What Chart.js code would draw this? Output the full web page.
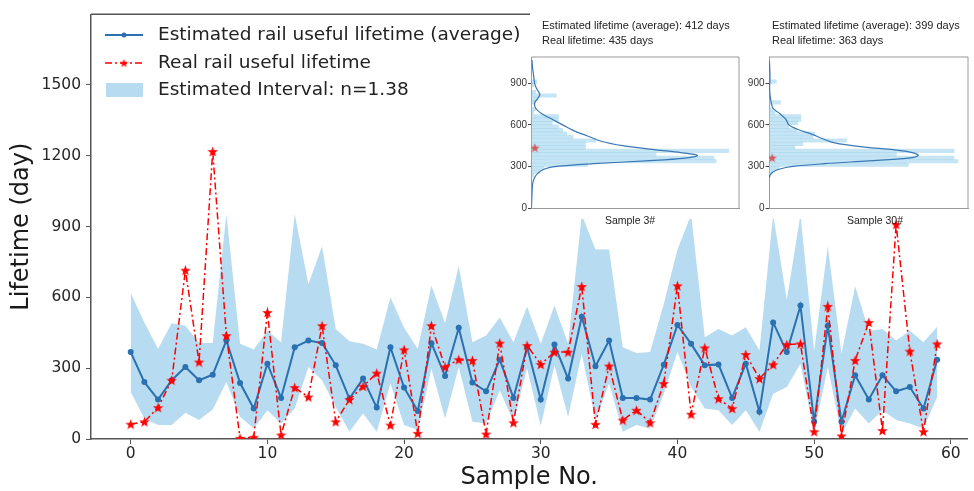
<!DOCTYPE html>
<html>
<head>
<meta charset="utf-8">
<script src="https://cdn.jsdelivr.net/npm/chart.js@4.4.0/dist/chart.umd.min.js"></script>
<style>
  html, body { margin: 0; padding: 0; background: #fff; overflow: hidden; }
  #wrap { position: relative; width: 974px; height: 491px; }
  #wrap canvas { position: absolute; }
  .inset-bg { position: absolute; background: #fff; }
  .note { position: absolute; font-family: 'Liberation Sans', Arial, sans-serif; font-size: 11px; color: #222; white-space: nowrap; line-height: 1; }
  .cap { position: absolute; font-family: 'Liberation Sans', Arial, sans-serif; font-size: 10.5px; color: #222; white-space: nowrap; line-height: 1; transform: translateX(-50%); }
  .leg { position: absolute; left: 158px; font-family: 'DejaVu Sans', sans-serif; font-size: 18.5px; color: #222; white-space: nowrap; line-height: 1; }
</style>
</head>
<body>
<div id="wrap">
  <canvas id="main" width="974" height="491" style="left:0;top:0"></canvas>
  <div class="inset-bg" style="left:530px;top:11px;width:213px;height:208px"></div>
  <div class="inset-bg" style="left:743px;top:11px;width:231px;height:208px"></div>
  <canvas id="legendIcons" width="50" height="90" style="left:100px;top:20px"></canvas>
  <div class="leg" style="top:25px">Estimated rail useful lifetime (average)</div>
  <div class="leg" style="top:53px">Real rail useful lifetime</div>
  <div class="leg" style="top:80px">Estimated Interval: n=1.38</div>

  <canvas id="inset3" width="240" height="165" style="left:505px;top:50px"></canvas>
  <canvas id="inset30" width="231" height="165" style="left:743px;top:50px"></canvas>
  <div class="note" id="n3a" style="left:542px;top:20px"></div>
  <div class="note" id="n3b" style="left:542px;top:35px"></div>
  <div class="cap" style="left:630px;top:215px">Sample 3#</div>
  <div class="note" id="n30a" style="left:772px;top:20px"></div>
  <div class="note" id="n30b" style="left:772px;top:35px"></div>
  <div class="cap" style="left:875px;top:215px">Sample 30#</div>
</div>
<script>
// main chart data
const samples = [0, 1, 2, 3, 4, 5, 6, 7, 8, 9, 10, 11, 12, 13, 14, 15, 16, 17, 18, 19,
  20, 21, 22, 23, 24, 25, 26, 27, 28, 29, 30, 31, 32, 33, 34, 35, 36, 37, 38, 39,
  40, 41, 42, 43, 44, 45, 46, 47, 48, 49, 50, 51, 52, 53, 54, 55, 56, 57, 58, 59];
const estimated = [368, 241, 167, 249, 305, 249, 272, 417, 237, 129, 319, 174, 389, 417, 407, 312, 171, 256, 133, 389,
  218, 119, 406, 267, 471, 239, 202, 336, 174, 389, 167, 400, 256, 518, 308, 417, 174, 174, 167, 315,
  483, 403, 312, 316, 174, 319, 115, 494, 368, 565, 73, 480, 73, 270, 167, 270, 202, 220, 129, 336];
const realLife = [63, 73, 133, 249, 715, 326, 1218, 438, 3, 7, 536, 17, 218, 178, 480, 73, 167, 223, 279, 59,
  378, 24, 480, 305, 336, 333, 21, 406, 69, 396, 316, 368, 368, 646, 62, 309, 80, 122, 69, 235,
  649, 105, 386, 171, 129, 358, 256, 315, 400, 403, 31, 562, 13, 333, 494, 36, 909, 372, 31, 403];
const intervalHigh = [618, 494, 382, 490, 480, 407, 407, 953, 403, 379, 459, 410, 953, 656, 817, 466, 414, 403, 379, 600,
  471, 382, 649, 490, 733, 410, 438, 515, 410, 560, 403, 565, 403, 950, 803, 803, 389, 364, 368, 572,
  803, 950, 431, 466, 438, 473, 375, 950, 590, 950, 374, 817, 361, 647, 458, 466, 417, 459, 410, 476];
const intervalLow = [199, 87, 59, 59, 111, 80, 125, 241, 94, 45, 122, 66, 129, 305, 249, 136, 31, 108, 31, 235,
  59, 38, 298, 87, 305, 73, 66, 206, 73, 300, 55, 312, 94, 361, 80, 235, 31, 59, 45, 192,
  368, 220, 129, 122, 59, 122, 31, 192, 220, 319, 25, 305, 20, 129, 66, 122, 80, 66, 45, 178];
const xTicks = [0, 10, 20, 30, 40, 50, 60];
const yTicks = [0, 300, 600, 900, 1200, 1500];

// inset data (histogram lengths as fraction of inset width)
const histBins = [237.5, 262.5, 287.5, 312.5, 337.5, 362.5, 387.5, 412.5, 437.5, 462.5, 487.5, 512.5, 537.5, 562.5, 587.5,
  612.5, 637.5, 662.5, 687.5, 712.5, 737.5, 762.5, 787.5, 812.5, 837.5, 862.5, 887.5, 912.5, 937.5];
const hist3 = [0.01, 0.04, 0.06, 0.27, 0.89, 0.88, 0.60, 0.95, 0.26, 0.26, 0.31, 0.20, 0.17, 0.15, 0.13,
  0.10, 0.13, 0.13, 0.01, 0.02, 0, 0.02, 0.03, 0.12, 0.02, 0, 0.01, 0.025, 0];
const hist30 = [0.005, 0.02, 0.05, 0.70, 0.95, 0.93, 0.64, 0.93, 0.13, 0.17, 0.39, 0.22, 0.23, 0.14, 0.10,
  0.145, 0.16, 0.16, 0.03, 0.02, 0, 0.058, 0, 0, 0, 0, 0, 0.037, 0];
const kde3Days = [1070, 1000, 960, 900, 860, 820, 790, 760, 720, 680, 640, 600, 560, 520, 480, 450, 420, 400, 380, 360, 340, 320, 300, 280, 250, 220, 180, 120, 50, 0];
const kde3Dens = [0.002, 0.006, 0.01, 0.015, 0.025, 0.04, 0.03, 0.015, 0.02, 0.05, 0.10, 0.15, 0.20, 0.27, 0.34, 0.44, 0.60, 0.72, 0.80, 0.74, 0.55, 0.30, 0.12, 0.06, 0.03, 0.015, 0.006, 0.003, 0.001, 0];
const kde30Days = [1060, 1000, 930, 870, 820, 770, 720, 680, 640, 600, 570, 530, 500, 470, 440, 420, 400, 380, 360, 340, 320, 300, 280, 260, 240, 220];
const kde30Dens = [0.002, 0.004, 0.005, 0.003, 0.005, 0.01, 0.02, 0.055, 0.085, 0.10, 0.14, 0.22, 0.27, 0.33, 0.48, 0.63, 0.72, 0.75, 0.70, 0.50, 0.28, 0.12, 0.05, 0.02, 0.006, 0.002];
const estimated3 = 412, real3 = 435;
const estimated30 = 399, real30 = 363;
const insetTicks = [0, 300, 600, 900];

const bandColor = 'rgba(135,195,230,0.6)';
const blueColor = '#2b70b0';

document.getElementById('n3a').textContent = 'Estimated lifetime (average): ' + estimated3 + ' days';
document.getElementById('n3b').textContent = 'Real lifetime: ' + real3 + ' days';
document.getElementById('n30a').textContent = 'Estimated lifetime (average): ' + estimated30 + ' days';
document.getElementById('n30b').textContent = 'Real lifetime: ' + real30 + ' days';

function makeStar(size, color) {
  const c = document.createElement('canvas');
  c.width = c.height = size;
  const ctx = c.getContext('2d');
  ctx.fillStyle = color;
  ctx.beginPath();
  for (let k = 0; k < 10; k++) {
    const r = k % 2 ? size * 0.21 : size * 0.5;
    const a = -Math.PI / 2 + k * Math.PI / 5;
    ctx.lineTo(size / 2 + r * Math.cos(a), size * 0.55 + r * Math.sin(a));
  }
  ctx.closePath();
  ctx.fill();
  return c;
}
const redStar = makeStar(11, '#ff0000');
const insetStar = makeStar(10, 'rgba(214,70,70,0.85)');

// box lines on the sides that have no axis
const framePlugin = {
  id: 'frame',
  afterDraw(chart, args, opts) {
    const a = chart.chartArea, ctx = chart.ctx;
    ctx.save();
    ctx.strokeStyle = opts.color;
    ctx.lineWidth = opts.width;
    ctx.beginPath();
    ctx.moveTo(a.left, a.top);
    ctx.lineTo(a.right, a.top);
    if (opts.right) ctx.lineTo(a.right, a.bottom);
    ctx.stroke();
    ctx.restore();
  }
};

const pts = arr => samples.map((s, i) => ({ x: s, y: arr[i] }));

new Chart(document.getElementById('main'), {
  type: 'line',
  data: {
    datasets: [
      { label: 'low', data: pts(intervalLow), borderColor: 'rgba(0,0,0,0)', borderWidth: 0, pointRadius: 0, fill: false, order: 4 },
      { label: 'Estimated Interval: n=1.38', data: pts(intervalHigh), borderColor: 'rgba(0,0,0,0)', borderWidth: 0, pointRadius: 0, fill: '-1', backgroundColor: bandColor, order: 3 },
      { label: 'Estimated rail useful lifetime (average)', data: pts(estimated), borderColor: blueColor, borderWidth: 2,
        pointRadius: 3, pointBackgroundColor: blueColor, pointBorderWidth: 0, order: 1 },
      { label: 'Real rail useful lifetime', data: pts(realLife), borderColor: '#ff0000', borderWidth: 1.5, borderDash: [7, 3, 2, 3],
        pointStyle: redStar, pointRadius: 5, order: 0 }
    ]
  },
  options: {
    responsive: false,
    animation: false,
    layout: { padding: { top: 10, right: 0, left: 0, bottom: 0 } },
    plugins: { legend: { display: false }, tooltip: { enabled: false }, frame: { color: '#555', width: 1.5 } },
    scales: {
      x: {
        type: 'linear', min: -2.905, max: 61.22,
        afterBuildTicks: ax => { ax.ticks = xTicks.map(v => ({ value: v })); },
        afterFit: ax => { ax.height = 52; },
        ticks: { font: { family: 'DejaVu Sans', size: 15.5 }, color: '#262626', padding: 1, maxRotation: 0, callback: v => String(v) },
        grid: { drawOnChartArea: false, tickLength: 5, color: '#555' },
        border: { color: '#555', width: 1.5 },
        title: { display: true, text: 'Sample No.', font: { family: 'DejaVu Sans', size: 24, lineHeight: 1.1 }, color: '#1a1a1a', padding: { top: 0, bottom: 0 } }
      },
      y: {
        min: 0, max: 1799,
        afterBuildTicks: ax => { ax.ticks = yTicks.map(v => ({ value: v })); },
        afterFit: ax => { ax.width = 91; },
        ticks: { font: { family: 'DejaVu Sans', size: 15.5 }, color: '#262626', padding: 5, callback: v => String(v) },
        grid: { drawOnChartArea: false, tickLength: 5, color: '#555' },
        border: { color: '#555', width: 1.5 },
        title: { display: true, text: 'Lifetime (day)', font: { family: 'DejaVu Sans', size: 24, lineHeight: 1.1 }, color: '#1a1a1a', padding: { top: 9, bottom: 0 } }
      }
    }
  },
  plugins: [framePlugin]
});

// legend glyphs
(function () {
  const ctx = document.getElementById('legendIcons').getContext('2d');
  ctx.strokeStyle = blueColor; ctx.lineWidth = 2;
  ctx.beginPath(); ctx.moveTo(5, 15); ctx.lineTo(43, 15); ctx.stroke();
  ctx.fillStyle = blueColor;
  ctx.beginPath(); ctx.arc(24, 15, 2.5, 0, Math.PI * 2); ctx.fill();
  ctx.strokeStyle = '#ff0000'; ctx.lineWidth = 1.5; ctx.setLineDash([7, 3, 2, 3]);
  ctx.beginPath(); ctx.moveTo(5, 43); ctx.lineTo(43, 43); ctx.stroke();
  ctx.setLineDash([]);
  ctx.drawImage(makeStar(9, '#ff0000'), 19.5, 38.5);
  ctx.fillStyle = bandColor;
  ctx.fillRect(6, 63, 37, 14);
})();

function makeInset(id, hist, kdeDays, kdeDens, real, padTop, padRight, leftW, bottomH) {
  new Chart(document.getElementById(id), {
    type: 'bar',
    data: {
      datasets: [
        { type: 'line', data: kdeDays.map((d, i) => ({ x: kdeDens[i], y: d })), borderColor: '#3a78b5', borderWidth: 1.2,
          pointRadius: 0, tension: 0.35, order: 1 },
        { type: 'line', data: [{ x: 0.016, y: real }], showLine: false, pointStyle: insetStar, pointRadius: 5, order: 0 },
        { type: 'bar', data: histBins.map((b, i) => ({ x: hist[i], y: b })), backgroundColor: 'rgba(150,205,235,0.55)',
          borderWidth: 0, barPercentage: 1, categoryPercentage: 1, order: 2 }
      ]
    },
    options: {
      indexAxis: 'y',
      responsive: false,
      animation: false,
      layout: { padding: { top: padTop, right: padRight, left: 0, bottom: 0 } },
      plugins: { legend: { display: false }, tooltip: { enabled: false }, frame: { color: '#999', width: 1, right: true } },
      scales: {
        x: {
          type: 'linear', min: 0, max: 1,
          ticks: { display: false },
          grid: { display: false },
          border: { color: '#999', width: 1 },
          afterFit: ax => { ax.height = bottomH; }
        },
        y: {
          type: 'linear', min: 0, max: 1090, offset: false,
          afterBuildTicks: ax => { ax.ticks = insetTicks.map(v => ({ value: v })); },
          afterFit: ax => { ax.width = leftW; },
          ticks: { font: { family: 'Liberation Sans', size: 10 }, color: '#333', padding: 1, callback: v => String(v) },
          grid: { drawOnChartArea: false, tickLength: 3.5, color: '#444', offset: false },
          border: { color: '#999', width: 1 }
        }
      }
    },
    plugins: [framePlugin]
  });
}

makeInset('inset3', hist3, kde3Days, kde3Dens, real3, 4.5, 4.5, 26.5, 5.7);
makeInset('inset30', hist30, kde30Days, kde30Dens, real30, 5, 1, 26, 6.5);
</script>
</body>
</html>
